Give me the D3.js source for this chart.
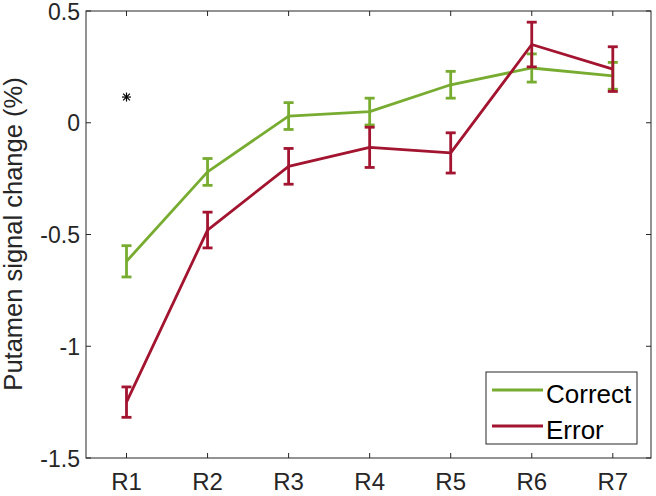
<!DOCTYPE html>
<html><head><meta charset="utf-8">
<script src="https://cdn.jsdelivr.net/npm/d3@7"></script>
<style>body{margin:0;background:#fff}svg{display:block}text{font-family:"Liberation Sans",Arial,Helvetica,sans-serif}</style>
</head><body>
<svg id="chart" width="656" height="496"></svg>
<script>
const categories = ["R1","R2","R3","R4","R5","R6","R7"];
const correctMean = [-0.62, -0.22, 0.03, 0.05, 0.17, 0.245, 0.21];
const correctErr  = [0.07, 0.06, 0.06, 0.06, 0.06, 0.063, 0.06];
const errorMean   = [-1.25, -0.48, -0.195, -0.11, -0.135, 0.35, 0.24];
const errorErr    = [0.068, 0.08, 0.08, 0.09, 0.09, 0.10, 0.10];
const yTicks = [-1.5, -1, -0.5, 0, 0.5];
const yTickLabels = ["-1.5", "-1", "-0.5", "0", "0.5"];
const starPoint = {x: 1, y: 0.115};
const seriesNames = ["Correct", "Error"];
const seriesColors = ["#77AC30", "#A2142F"];

const svg = d3.select("#chart");
const L = 86, R = 651, T = 11, B = 458;
const x = d3.scaleLinear().domain([1, 7]).range([126.5, 612.8]);
const y = d3.scaleLinear().domain([-1.5, 0.5]).range([B, T]);
const axisColor = "#262626";

svg.append("rect").attr("x", L).attr("y", T).attr("width", R - L).attr("height", B - T)
  .attr("fill", "none").attr("stroke", axisColor).attr("stroke-width", 1);

const tl = 5;
categories.forEach((c, i) => {
  const xv = x(i + 1);
  svg.append("line").attr("x1", xv).attr("x2", xv).attr("y1", B).attr("y2", B - tl).attr("stroke", axisColor);
  svg.append("line").attr("x1", xv).attr("x2", xv).attr("y1", T).attr("y2", T + tl).attr("stroke", axisColor);
  svg.append("text").attr("x", xv).attr("y", 490).attr("text-anchor", "middle")
    .attr("font-size", 24).attr("fill", axisColor).text(c);
});
yTicks.forEach((t, i) => {
  const yv = y(t);
  svg.append("line").attr("x1", L).attr("x2", L + tl).attr("y1", yv).attr("y2", yv).attr("stroke", axisColor);
  svg.append("line").attr("x1", R).attr("x2", R - tl).attr("y1", yv).attr("y2", yv).attr("stroke", axisColor);
  svg.append("text").attr("x", 80).attr("y", yv + 8.5).attr("text-anchor", "end")
    .attr("font-size", 23).attr("fill", axisColor).text(yTickLabels[i]);
});

svg.append("text").attr("transform", "translate(22,234) rotate(-90)")
  .attr("text-anchor", "middle").attr("font-size", 25.5).attr("fill", axisColor)
  .text("Putamen signal change (%)");

const series = [
  {mean: correctMean, err: correctErr, color: seriesColors[0]},
  {mean: errorMean, err: errorErr, color: seriesColors[1]}
];
const line = d3.line().x((d, i) => x(i + 1)).y(d => y(d));
const capW = 5;
series.forEach(s => {
  svg.append("path").attr("d", line(s.mean)).attr("fill", "none")
    .attr("stroke", s.color).attr("stroke-width", 2.8).attr("stroke-linejoin", "round");
  s.mean.forEach((m, i) => {
    const xv = x(i + 1), y1 = y(m + s.err[i]), y2 = y(m - s.err[i]);
    const g = svg.append("g").attr("stroke", s.color).attr("stroke-width", 2.8);
    g.append("line").attr("x1", xv).attr("x2", xv).attr("y1", y1).attr("y2", y2);
    g.append("line").attr("x1", xv - capW).attr("x2", xv + capW).attr("y1", y1).attr("y2", y1);
    g.append("line").attr("x1", xv - capW).attr("x2", xv + capW).attr("y1", y2).attr("y2", y2);
  });
});

{
  const cx = x(starPoint.x), cy = y(starPoint.y), r = 4.5;
  const g = svg.append("g").attr("stroke", "#000").attr("stroke-width", 1.2);
  g.append("line").attr("x1", cx - r).attr("x2", cx + r).attr("y1", cy).attr("y2", cy);
  g.append("line").attr("x1", cx).attr("x2", cx).attr("y1", cy - r).attr("y2", cy + r);
  const d = r * 0.75;
  g.append("line").attr("x1", cx - d).attr("x2", cx + d).attr("y1", cy - d).attr("y2", cy + d);
  g.append("line").attr("x1", cx - d).attr("x2", cx + d).attr("y1", cy + d).attr("y2", cy - d);
}

const lg = svg.append("g");
lg.append("rect").attr("x", 486).attr("y", 372).attr("width", 151).attr("height", 72)
  .attr("fill", "#fff").attr("stroke", axisColor).attr("stroke-width", 1);
seriesNames.forEach((n, i) => {
  const ly = 390 + i * 36;
  lg.append("line").attr("x1", 492).attr("x2", 543).attr("y1", ly).attr("y2", ly)
    .attr("stroke", seriesColors[i]).attr("stroke-width", 2.8);
  lg.append("text").attr("x", 546).attr("y", ly + 13).attr("font-size", 26)
    .attr("fill", "#000").text(n);
});
</script>
</body></html>
